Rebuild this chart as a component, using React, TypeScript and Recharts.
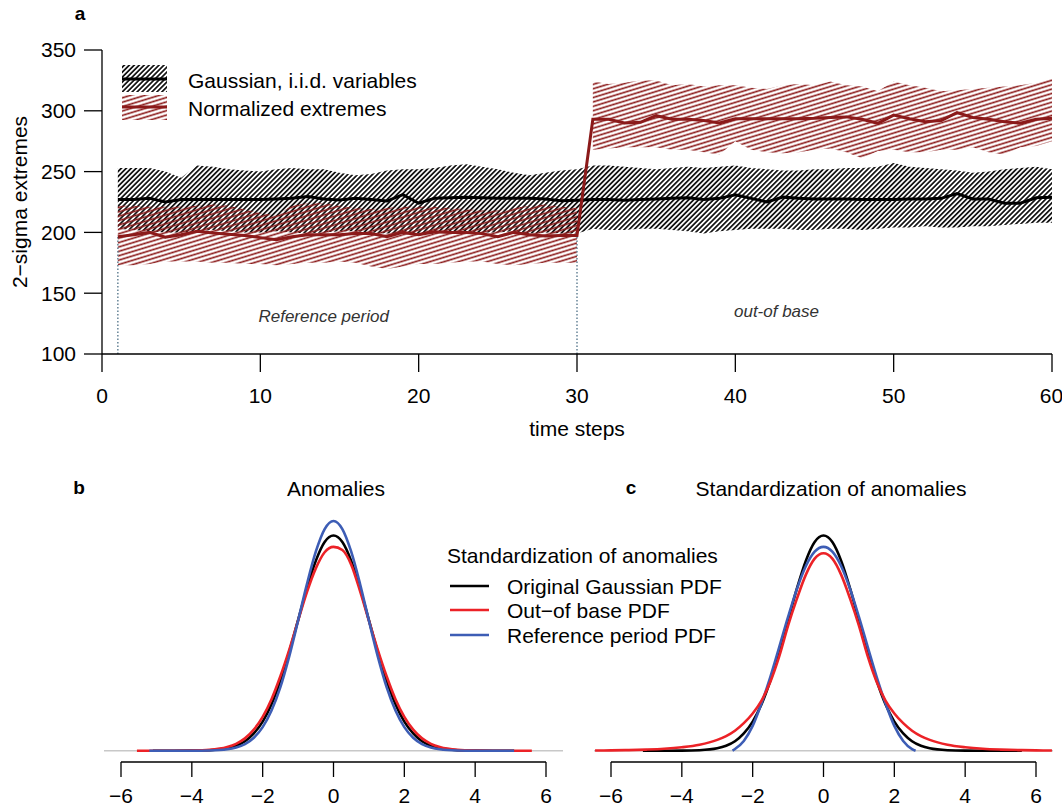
import React from 'react';
import { ComposedChart, Line, Area, XAxis, YAxis, ReferenceLine, ReferenceDot } from 'recharts';

const FONT = '"Liberation Sans", Arial, Helvetica, sans-serif';

// ---- panel a: 2-sigma extremes over 60 time steps ----
const timeSteps = Array.from({ length: 60 }, (_, i) => i + 1);

const gaussMean = [
  227, 227, 228, 225, 227, 227, 227, 227, 227, 227,
  227.5, 228, 229.5, 227.5, 226.6, 228, 227, 225.8, 231, 224,
  228, 228.5, 229, 228.5, 228, 228, 228, 227.5, 226, 226.5,
  227, 227, 226.5, 227, 227.5, 228, 228.5, 227, 228, 231,
  228, 225, 229, 228, 227.5, 227.5, 227.5, 227, 227, 227,
  227.5, 227.5, 228, 232, 227.5, 227.5, 224, 224, 228.5, 229,
];
const gaussHigh = [
  253, 253, 253, 250, 245, 255, 254, 252, 251, 250,
  252, 253, 252, 252, 249, 247, 248, 251, 252, 252,
  253, 255, 256, 254, 252, 249, 247, 249, 251, 252,
  255, 255, 254, 253, 252, 253, 254, 253, 254, 255,
  253, 252, 251, 251, 252, 252, 253, 253, 254, 257,
  254, 253, 252, 251, 249, 250, 252, 253, 254, 252,
];
const gaussLow = [
  203, 202, 201, 200, 200, 201, 202, 201, 200, 200,
  201, 200, 199, 200, 201, 201, 200, 199, 200, 198,
  199, 200, 201, 200, 200, 201, 199, 200, 199, 199,
  203, 202, 202, 203, 203, 202, 201, 199, 201, 202,
  203, 203, 203, 202, 202, 203, 203, 202, 203, 204,
  204, 205, 204, 204, 205, 205, 206, 207, 208, 208,
];
const normMean = [
  196.5, 198, 200, 196, 198, 201, 199.5, 198.5, 197.5, 195.7,
  194, 196.5, 198, 198, 198, 199, 199, 196.5, 200, 198,
  200.5, 200, 200, 199, 196.5, 200, 198, 197, 197.5, 197.5,
  293, 293, 290, 290.5, 296, 293, 293, 292, 290, 293.5,
  293.5, 293.5, 293.5, 293.5, 293.8, 294.5, 295, 293, 289.7, 296.5,
  293.5, 291, 292, 298.5, 294.5, 293, 291, 289.7, 293, 293.8,
];
// reference period (steps 1-30)
const normHighRef = [
  222, 222, 221, 221, 221, 222, 223, 222, 219, 216,
  214, 222, 224, 224, 222, 220, 219, 220, 221, 221,
  221, 220, 219, 218, 218, 220, 222, 223, 221, 220,
];
const normLowRef = [
  173, 173, 174, 176, 176, 176, 175, 175, 174, 174,
  173, 174, 175, 175, 176, 175, 172, 170, 172, 174,
  174, 175, 176, 176, 174, 173, 174, 175, 175, 175,
];
// out-of-base period (steps 31-60)
const normHighOut = [
  324, 322, 323, 325, 325, 321, 322, 320, 321, 321,
  319, 318, 321, 322, 321, 324, 321, 320, 316, 324,
  321, 319, 316, 317, 318, 319, 320, 321, 323, 327,
];
const normLowOut = [
  268, 269, 270, 270, 270, 268, 268, 266, 264, 275,
  268, 266, 265, 266, 268, 269, 266, 261, 267, 268,
  266, 266, 268, 268, 270, 266, 264, 270, 271, 275,
];

const yTicksA = [100, 150, 200, 250, 300, 350];
const xTicksA = [0, 10, 20, 30, 40, 50, 60];

const rowsA = timeSteps.map((t, i) => ({
  t,
  gLo: gaussLow[i],
  gHi: gaussHigh[i],
  gMid: gaussMean[i],
  nMid: normMean[i],
  nLoRef: i < 30 ? normLowRef[i] : null,
  nHiRef: i < 30 ? normHighRef[i] : null,
  nLoOut: i >= 30 ? normLowOut[i - 30] : null,
  nHiOut: i >= 30 ? normHighOut[i - 30] : null,
}));

// ---- panels b and c: density curves ----
const core = [-3, -2.75, -2.5, -2.25, -2, -1.75, -1.5, -1.25, -1, -0.75, -0.5, -0.25, 0,
  0.25, 0.5, 0.75, 1, 1.25, 1.5, 1.75, 2, 2.25, 2.5, 2.75, 3];

const anomBlackX = [-5.1, -4.5, -4, -3.5, ...core, 3.5, 4, 4.5, 5.1];
const anomBlackY = [0, 0, 0.0001, 0.0009, 0.0044, 0.0091, 0.0175, 0.032, 0.054, 0.086, 0.13, 0.183,
  0.242, 0.301, 0.352, 0.387, 0.399, 0.387, 0.352, 0.301, 0.242, 0.183, 0.13, 0.086, 0.054, 0.032,
  0.0175, 0.0091, 0.0044, 0.0009, 0.0001, 0, 0];
const anomRedX = [-5.55, -4.5, -4, -3.5, ...core, 3.5, 4, 4.5, 5.6];
const anomRedY = [0, 0, 0.0003, 0.0015, 0.0066, 0.0127, 0.0228, 0.039, 0.0627, 0.0955, 0.138, 0.187,
  0.241, 0.294, 0.338, 0.368, 0.378, 0.372, 0.345, 0.296, 0.241, 0.187, 0.138, 0.0955, 0.0627, 0.039,
  0.0228, 0.0127, 0.0066, 0.0015, 0.0003, 0, 0];
const anomBlueX = [-5.2, -4.5, -4, -3.5, ...core, 3.5, 4, 4.5, 5.1];
const anomBlueY = [0, 0, 0, 0.0004, 0.0025, 0.0057, 0.0121, 0.0239, 0.0437, 0.0745, 0.118, 0.175,
  0.241, 0.309, 0.369, 0.411, 0.426, 0.411, 0.369, 0.309, 0.241, 0.175, 0.118, 0.0745, 0.0437, 0.0239,
  0.0121, 0.0057, 0.0025, 0.0004, 0, 0, 0];

const stdBlackX = [-5.1, -4.5, -4, -3.5, ...core, 3.5, 4, 4.5, 5.6];
const stdBlackY = anomBlackY;
const stdBlueX = [-2.57, -2.5, -2.25, -2, -1.75, -1.5, -1.25, -1, -0.75, -0.5, -0.25, 0,
  0.25, 0.5, 0.75, 1, 1.25, 1.5, 1.75, 2, 2.25, 2.5, 2.6];
const stdBlueY = [0, 0.003, 0.018, 0.046, 0.088, 0.137, 0.192, 0.248, 0.3, 0.342, 0.369, 0.378,
  0.369, 0.342, 0.3, 0.248, 0.192, 0.137, 0.088, 0.046, 0.018, 0.003, 0];
const stdRedX = [-6.45, -6, -5.5, -5, -4.5, -4, -3.5, ...core, 3.5, 4, 4.5, 5, 5.5, 6, 6.45];
const stdRedY = [0.0003, 0.0006, 0.0011, 0.002, 0.0035, 0.0063, 0.011,
  0.02, 0.027, 0.037, 0.051, 0.069, 0.093, 0.128, 0.175, 0.232, 0.282, 0.326, 0.356, 0.366,
  0.356, 0.326, 0.282, 0.232, 0.175, 0.128, 0.093, 0.069, 0.051, 0.037, 0.027, 0.02,
  0.011, 0.0063, 0.0035, 0.002, 0.0011, 0.0006, 0.0003];

const xTicksPdf = [-6, -4, -2, 0, 2, 4, 6];
const pdfDomainX: [number, number] = [-6.48, 6.48];
const pdfDomainY: [number, number] = [-0.021, 0.45];

const legendLabels = ['Original Gaussian PDF', 'Out\u2212of base PDF', 'Reference period PDF'];
const pdfColors = { black: '#000000', red: '#ec2227', blue: '#3d5db5' };

const toPoints = (xs: number[], ys: number[]) => xs.map((x, i) => ({ x, y: ys[i] }));
const minus = (v: number) => String(v).replace('-', '\u2212');

const DARK_RED = '#8b1a1a';

function Txt({ x, y, children, size = 21, bold = false, italic = false, anchor = 'middle', rotate = 0 }: any) {
  const tx = anchor === 'middle' ? '-50%' : '0';
  return (
    <div
      style={{
        position: 'absolute',
        left: x,
        top: y,
        transform: `translate(${tx}, -50%) rotate(${rotate}deg)`,
        fontSize: size,
        fontWeight: bold ? 'bold' : 'normal',
        fontStyle: italic ? 'italic' : 'normal',
        lineHeight: 1,
        whiteSpace: 'nowrap',
        color: '#000',
      }}
    >
      {children}
    </div>
  );
}

// hatch fills used by the bands and by the legend swatches
function Hatches({ prefix }: { prefix: string }) {
  return (
    <defs>
      <pattern id={`${prefix}Gauss`} patternUnits="userSpaceOnUse" width="3.5" height="10" patternTransform="rotate(45)">
        <line x1="1.75" y1="0" x2="1.75" y2="10" stroke="#000" strokeWidth="1.6" />
      </pattern>
      <pattern id={`${prefix}Norm`} patternUnits="userSpaceOnUse" width="10" height="4.2" patternTransform="rotate(-17)">
        <line x1="0" y1="2.1" x2="10" y2="2.1" stroke={DARK_RED} strokeWidth="1.6" />
      </pattern>
    </defs>
  );
}

function PdfPanel({ curves, left }: { curves: { xs: number[]; ys: number[]; color: string }[]; left: number; }) {
  const width = left === 0 ? 570 : 502;
  const marginLeft = left === 0 ? 104 : 34;
  const marginRight = left === 0 ? 7 : 9;
  return (
    <div style={{ position: 'absolute', left, top: 470 }}>
      <ComposedChart width={width} height={339} margin={{ top: 38, right: marginRight, bottom: 0, left: marginLeft }}>
        <XAxis
          type="number"
          dataKey="x"
          domain={pdfDomainX}
          allowDataOverflow
          ticks={xTicksPdf}
          tickFormatter={minus}
          axisLine={false}
          tickLine={{ stroke: '#000', strokeWidth: 1.3 }}
          tickSize={15}
          tickMargin={11}
          height={47}
          tick={{ fill: '#000', fontSize: 21 }}
        />
        <YAxis type="number" hide domain={pdfDomainY} allowDataOverflow />
        <ReferenceLine y={0} stroke="#c8c8c8" strokeWidth={1.5} />
        <ReferenceLine
          segment={[{ x: -6, y: pdfDomainY[0] }, { x: 6, y: pdfDomainY[0] }]}
          stroke="#000"
          strokeWidth={1.3}
        />
        {curves.map((c, i) => (
          <Line
            key={i}
            data={toPoints(c.xs, c.ys)}
            dataKey="y"
            type="monotone"
            stroke={c.color}
            strokeWidth={2.6}
            dot={false}
            activeDot={false}
            isAnimationActive={false}
          />
        ))}
      </ComposedChart>
    </div>
  );
}

export default function App() {
  return (
    <div style={{ position: 'absolute', left: 0, top: 0, width: 1062, height: 809, background: '#fff', fontFamily: FONT }}>
      {/* panel a */}
      <div style={{ position: 'absolute', left: 0, top: 0 }}>
        <ComposedChart width={1062} height={420} data={rowsA} margin={{ top: 50, right: 10, bottom: 26, left: 42 }}>
          <Hatches prefix="hatch" />
          <XAxis
            type="number"
            dataKey="t"
            domain={[0, 60]}
            ticks={xTicksA}
            tickSize={18}
            tickMargin={16}
            height={40}
            axisLine={{ stroke: '#000', strokeWidth: 1.3 }}
            tickLine={{ stroke: '#000', strokeWidth: 1.3 }}
            tick={{ fill: '#000', fontSize: 21 }}
          />
          <YAxis
            type="number"
            domain={[100, 350]}
            ticks={yTicksA}
            width={60}
            tickSize={18}
            tickMargin={8}
            axisLine={{ stroke: '#000', strokeWidth: 1.3 }}
            tickLine={{ stroke: '#000', strokeWidth: 1.3 }}
            tick={{ fill: '#000', fontSize: 21 }}
          />
          <Area
            dataKey={(d: any) => [d.gLo, d.gHi]}
            type="linear"
            stroke="none"
            fill="url(#hatchGauss)"
            fillOpacity={1}
            isAnimationActive={false}
          />
          <Area
            dataKey={(d: any) => (d.nLoRef == null ? null : [d.nLoRef, d.nHiRef])}
            type="linear"
            stroke="none"
            fill="url(#hatchNorm)"
            fillOpacity={1}
            isAnimationActive={false}
          />
          <Area
            dataKey={(d: any) => (d.nLoOut == null ? null : [d.nLoOut, d.nHiOut])}
            type="linear"
            stroke="none"
            fill="url(#hatchNorm)"
            fillOpacity={1}
            isAnimationActive={false}
          />
          <ReferenceLine
            segment={[{ x: 1, y: 100 }, { x: 1, y: normMean[0] }]}
            stroke="#6f8b9d"
            strokeWidth={1.6}
            strokeDasharray="1.5 2"
          />
          <ReferenceLine
            segment={[{ x: 30, y: 100 }, { x: 30, y: normMean[29] }]}
            stroke="#6f8b9d"
            strokeWidth={1.6}
            strokeDasharray="1.5 2"
          />
          <Line dataKey="gMid" type="linear" stroke="#000" strokeWidth={3} dot={false} activeDot={false} isAnimationActive={false} />
          <Line dataKey="nMid" type="linear" stroke={DARK_RED} strokeWidth={3} dot={false} activeDot={false} isAnimationActive={false} />
          <ReferenceDot
            x={14}
            y={131}
            r={1}
            fill="none"
            stroke="none"
            label={{ value: 'Reference period', position: 'center', fontSize: 17, fontStyle: 'italic', fill: '#333' }}
          />
          <ReferenceDot
            x={42.6}
            y={135.5}
            r={1}
            fill="none"
            stroke="none"
            label={{ value: 'out-of base', position: 'center', fontSize: 17, fontStyle: 'italic', fill: '#333' }}
          />
        </ComposedChart>
      </div>

      {/* legend of panel a */}
      <svg style={{ position: 'absolute', left: 122, top: 65 }} width={46} height={56}>
        <Hatches prefix="legHatch" />
        <rect x={0} y={0} width={45} height={27} fill="url(#legHatchGauss)" />
        <line x1={0} y1={14} x2={45} y2={14} stroke="#000" strokeWidth={3} />
        <rect x={0} y={30} width={45} height={25} fill="url(#legHatchNorm)" />
        <line x1={0} y1={42} x2={45} y2={42} stroke={DARK_RED} strokeWidth={3} />
      </svg>
      <Txt x={188} y={80} anchor="start">Gaussian, i.i.d. variables</Txt>
      <Txt x={188} y={108} anchor="start">Normalized extremes</Txt>

      <Txt x={80} y={13} size={19} bold>a</Txt>
      <Txt x={18.5} y={202} rotate={-90}>2{'\u2212'}sigma extremes</Txt>
      <Txt x={577} y={428}>time steps</Txt>

      {/* panels b and c */}
      <PdfPanel
        left={0}
        curves={[
          { xs: anomBlackX, ys: anomBlackY, color: pdfColors.black },
          { xs: anomRedX, ys: anomRedY, color: pdfColors.red },
          { xs: anomBlueX, ys: anomBlueY, color: pdfColors.blue },
        ]}
      />
      <PdfPanel
        left={560}
        curves={[
          { xs: stdBlackX, ys: stdBlackY, color: pdfColors.black },
          { xs: stdBlueX, ys: stdBlueY, color: pdfColors.blue },
          { xs: stdRedX, ys: stdRedY, color: pdfColors.red },
        ]}
      />

      <Txt x={79} y={487} size={19} bold>b</Txt>
      <Txt x={631} y={487} size={19} bold>c</Txt>
      <Txt x={336} y={488}>Anomalies</Txt>
      <Txt x={831} y={488}>Standardization of anomalies</Txt>

      {/* legend of panels b/c */}
      <Txt x={447} y={555} anchor="start">Standardization of anomalies</Txt>
      {legendLabels.map((label, i) => {
        const y = 586 + i * 24.3;
        const color = [pdfColors.black, pdfColors.red, pdfColors.blue][i];
        return (
          <React.Fragment key={label}>
            <svg style={{ position: 'absolute', left: 450, top: y - 2 }} width={40} height={4}>
              <line x1={0} y1={2} x2={39} y2={2} stroke={color} strokeWidth={2.6} />
            </svg>
            <Txt x={507} y={y} anchor="start">{label}</Txt>
          </React.Fragment>
        );
      })}
    </div>
  );
}
